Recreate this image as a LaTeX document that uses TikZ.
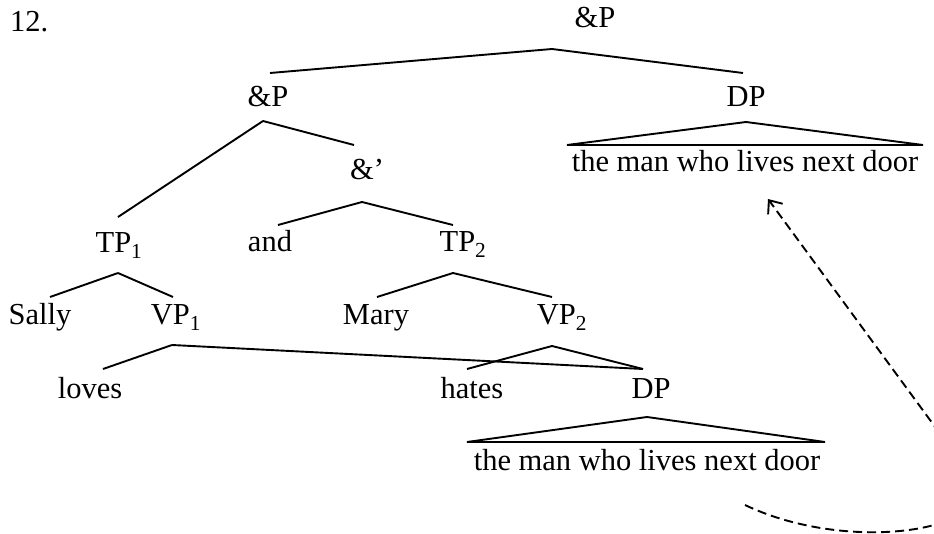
\documentclass[tikz,border=0pt]{standalone}
\usepackage{fontspec}
\setmainfont{Liberation Serif}
\usepackage{tikz}
\usetikzlibrary{arrows.meta}

\tikzset{
	lbl/.style={anchor=base, inner sep=0pt, font=\fontsize{30.5}{36}\selectfont},
	branch/.style={line width=1.9pt},
	move/.style={line width=1.9pt, dash pattern=on 9pt off 5pt, -{Straight Barb[length=11pt,width=18pt]}}
}

\begin{document}
\begin{tikzpicture}[x=1pt,y=-1pt]
			\clip (0,0) rectangle (934,534);
			% labels
			\node[lbl,anchor=base west] (num) at (10,32) {12.};
			\node[lbl] (ap0) at (595,28) {\&P};
			\node[lbl] (ap1) at (268,107) {\&P};
			\node[lbl] (dp1) at (746,107) {DP};
			\node[lbl] (tm1) at (745,172) {the man who lives next door};
			\node[lbl] (abar) at (367,180) {\&’};
			\node[lbl] (tp1) at (119,253) {TP\textsubscript{1}};
			\node[lbl] (and) at (270,252) {and};
			\node[lbl] (tp2) at (463,252) {TP\textsubscript{2}};
			\node[lbl] (sally) at (40,325) {Sally};
			\node[lbl] (vp1) at (176,325) {VP\textsubscript{1}};
			\node[lbl] (mary) at (376,325) {Mary};
			\node[lbl] (vp2) at (562,325) {VP\textsubscript{2}};
			\node[lbl] (loves) at (90,398) {loves};
			\node[lbl] (hates) at (472,398) {hates};
			\node[lbl] (dp2) at (651,398) {DP};
			\node[lbl] (tm2) at (647,470) {the man who lives next door};
			% branch ends
			\coordinate (ap0-d) at ([shift={(-43,21)}]ap0.base);
			\coordinate (ap1-u) at ([shift={(2,-34)}]ap1.base);
			\coordinate (ap1-d) at ([shift={(-5,14)}]ap1.base);
			\coordinate (dp1-u) at ([shift={(-3,-34)}]dp1.base);
			\coordinate (dp1-d) at ([shift={(0,15)}]dp1.base);
			\coordinate (abar-u) at ([shift={(-13,-35)}]abar.base);
			\coordinate (abar-d) at ([shift={(-5,22)}]abar.base);
			\coordinate (tp1-u) at ([shift={(-1,-36)}]tp1.base);
			\coordinate (tp1-d) at ([shift={(-1,20)}]tp1.base);
			\coordinate (and-u) at ([shift={(8,-27)}]and.base);
			\coordinate (tp2-u) at ([shift={(-10,-27)}]tp2.base);
			\coordinate (tp2-d) at ([shift={(-10,21)}]tp2.base);
			\coordinate (sally-u) at ([shift={(10,-28)}]sally.base);
			\coordinate (vp1-u) at ([shift={(-3,-28)}]vp1.base);
			\coordinate (vp1-d) at ([shift={(-4,20)}]vp1.base);
			\coordinate (mary-u) at ([shift={(1,-28)}]mary.base);
			\coordinate (vp2-u) at ([shift={(-10,-28)}]vp2.base);
			\coordinate (vp2-d) at ([shift={(-10,21)}]vp2.base);
			\coordinate (loves-u) at ([shift={(13,-29)}]loves.base);
			\coordinate (hates-u) at ([shift={(-5,-29)}]hates.base);
			\coordinate (dp2-u) at ([shift={(-8,-29)}]dp2.base);
			\coordinate (dp2-d) at ([shift={(-4,19)}]dp2.base);
			\coordinate (tm1-l) at ([shift={(-178,-27)}]tm1.base);
			\coordinate (tm1-r) at ([shift={(178,-27)}]tm1.base);
			\coordinate (tm2-l) at ([shift={(-180,-28)}]tm2.base);
			\coordinate (tm2-r) at ([shift={(178,-28)}]tm2.base);
			\coordinate (tm2-s) at ([shift={(98,35)}]tm2.base);
			\coordinate (tm1-e) at ([shift={(23,27)}]tm1.base);
			\coordinate (bend) at (974,480);
			% branches
			\foreach \a/\b in {ap0-d/ap1-u,ap0-d/dp1-u,ap1-d/tp1-u,ap1-d/abar-u,
				abar-d/and-u,abar-d/tp2-u,tp1-d/sally-u,tp1-d/vp1-u,
				tp2-d/mary-u,tp2-d/vp2-u,vp1-d/loves-u,vp1-d/dp2-u,
				vp2-d/hates-u,vp2-d/dp2-u}
			\draw[branch] (\a) -- (\b);
			\draw[branch] (dp1-d) -- (tm1-l) -- (tm1-r) -- cycle;
			\draw[branch] (dp2-d) -- (tm2-l) -- (tm2-r) -- cycle;
			% movement
			\draw[move] (tm2-s) .. controls (850,555) and (1000,530) .. (bend) -- (tm1-e);
	\end{tikzpicture}
\end{document}
